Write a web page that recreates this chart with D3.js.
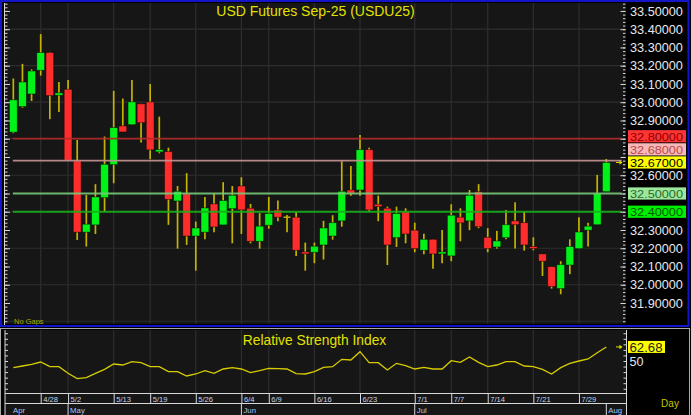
<!DOCTYPE html>
<html><head><meta charset="utf-8">
<script src="https://cdn.jsdelivr.net/npm/d3@7"></script>
<style>
html,body{margin:0;padding:0;background:#000;}
svg{display:block;font-family:"Liberation Sans",Arial,sans-serif;}
</style></head><body>
<svg id="c" width="691" height="415"></svg>
<script>
// ---------------- DATA ----------------
const dates = ["4/23","4/24","4/25","4/28","4/29","4/30","5/2","5/6","5/7","5/8","5/9","5/13","5/14","5/15","5/16",
"5/19","5/20","5/21","5/22","5/23","5/26","5/27","5/28","5/29","5/30","6/4","6/5","6/6","6/9","6/10","6/11","6/12","6/13",
"6/16","6/17","6/18","6/19","6/20","6/23","6/24","6/25","6/26","6/27","6/30","7/1","7/2","7/3","7/4","7/7","7/8","7/9","7/11",
"7/14","7/15","7/16","7/17","7/18","7/21","7/22","7/23","7/24","7/25","7/29","7/30","7/31","8/1"];
const openV = [32.836,32.976,33.045,33.175,33.272,33.038,33.071,32.678,32.288,32.328,32.477,32.658,32.870,32.877,32.991,
33.002,32.728,32.730,32.459,32.498,32.267,32.288,32.443,32.328,32.417,32.541,32.419,32.238,32.326,32.410,32.370,32.370,32.180,
32.178,32.218,32.267,32.350,32.519,32.519,32.740,32.441,32.419,32.258,32.399,32.299,32.189,32.249,32.169,32.158,32.370,32.350,32.510,
32.260,32.207,32.258,32.350,32.340,32.209,32.169,32.099,31.979,32.108,32.198,32.299,32.329,32.510];
const highV = [33.130,33.210,33.180,33.373,33.275,33.111,33.122,32.793,32.492,32.551,32.812,33.062,33.020,33.122,32.991,
33.100,32.921,32.751,32.541,32.611,32.346,32.481,32.501,32.562,32.541,32.589,32.443,32.392,32.481,32.461,32.382,32.399,32.231,
32.231,32.350,32.381,32.677,32.651,32.821,32.751,32.488,32.428,32.428,32.419,32.340,32.280,32.249,32.300,32.441,32.419,32.519,32.551,
32.310,32.295,32.410,32.452,32.399,32.260,32.169,32.099,32.129,32.249,32.370,32.340,32.602,32.689];
const lowV = [32.830,32.970,33.007,33.146,32.907,32.947,32.680,32.245,32.209,32.278,32.401,32.556,32.837,32.877,32.779,
32.688,32.720,32.328,32.198,32.218,32.077,32.249,32.288,32.328,32.227,32.278,32.227,32.198,32.307,32.348,32.288,32.158,32.077,
32.118,32.138,32.247,32.318,32.488,32.488,32.399,32.348,32.108,32.207,32.227,32.178,32.167,32.088,32.118,32.129,32.238,32.299,32.310,
32.178,32.198,32.249,32.198,32.187,32.189,32.048,31.979,31.948,32.058,32.198,32.209,32.329,32.510];
const closeV = [33.013,33.111,33.171,33.272,33.036,33.051,32.682,32.288,32.332,32.481,32.660,32.861,32.837,33.002,32.888,
32.739,32.740,32.468,32.512,32.267,32.311,32.421,32.317,32.461,32.490,32.410,32.238,32.321,32.390,32.370,32.370,32.189,32.169,
32.211,32.311,32.340,32.512,32.501,32.740,32.410,32.428,32.218,32.390,32.278,32.198,32.249,32.169,32.180,32.381,32.339,32.490,32.318,
32.198,32.240,32.329,32.329,32.218,32.198,32.129,31.990,32.110,32.209,32.289,32.321,32.501,32.670];
const rsiV = [44.0,45.5,47.0,49.1,44.9,44.9,38.9,34.1,35.0,38.9,42.5,47.3,46.4,49.4,48.5,
44.9,44.9,40.4,40.4,36.5,38.3,41.3,38.9,42.8,44.0,42.8,39.5,41.3,43.4,43.1,42.8,38.6,38.3,
40.4,44.3,44.9,51.5,50.9,58.4,48.5,48.5,41.9,47.9,45.8,42.8,44.3,42.8,42.8,50.3,48.8,53.6,48.8,
44.9,46.4,49.4,49.4,45.5,44.9,42.5,38.3,44.0,47.9,50.0,51.8,57.5,62.68];
const dateTicks = ["4/28","5/2","5/13","5/19","5/26","6/4","6/9","6/16","6/23","7/1","7/7","7/14","7/21","7/29"];
const monthStarts = ["4/23","5/2","6/4","7/1","8/1"];
const monthLabels = ["Apr","May","Jun","Jul","Aug"];
const priceTicks = [31.9,32.0,32.1,32.2,32.3,32.4,32.5,32.6,32.7,32.8,32.9,33.0,33.1,33.2,33.3,33.4,33.5];
const priceGrid = [31.8,32.0,32.2,32.4,32.6,32.8,33.0,33.2,33.4];
const levels = [32.80, 32.68, 32.50, 32.40];
const rsiTicks = [25,30,35,40,45,50,55,60,65,70,75];
const rsiLabels = [50];
const titleText = "USD Futures Sep-25 (USDU25)";
const rsiTitle = "Relative Strength Index";

// ---------------- STYLE ----------------
const levelLine = ["#b42828","#c89494","#78c878","#18b018"];
const levelFill = ["#ff3434","#f6b8b8","#9ce89c","#00ee00"];
const levelText = ["#8c0000","#c04848","#2e6a2e","#005a00"];
const UP="#00f218", DN="#ff2c2c", WICK="#c4b400", GRID="#2e2e2e", AX="#d8d8d8";

const svg = d3.select("#c");
const PL=5, PR=625.5, PT=3, PB=324;
const x = d3.scalePoint().domain(dates).range([13.33, 13.33 + 9.123*(dates.length-1)]);
const y = d3.scaleLinear().domain([31.785, 33.549]).range([324, 2]);
const yr = d3.scaleLinear().domain([21.17, 77.93]).range([393, 330]);
const fmt = d3.format(".5f");

// backgrounds
svg.append("rect").attr("width",691).attr("height",415).attr("fill","#000");
svg.append("rect").attr("x",PL).attr("y",PT).attr("width",PR-PL).attr("height",PB-PT).attr("fill","#161616");
svg.append("rect").attr("x",5).attr("y",330).attr("width",621.5).attr("height",85).attr("fill","#161616");

// main grid
const g = svg.append("g");
g.selectAll(".vg").data(dateTicks).join("line")
  .attr("x1",d=>x(d)).attr("x2",d=>x(d)).attr("y1",PT).attr("y2",PB)
  .attr("stroke",GRID).attr("stroke-width",1.2);
g.selectAll(".hg").data(priceGrid).join("line")
  .attr("x1",PL).attr("x2",PR).attr("y1",d=>y(d)).attr("y2",d=>y(d))
  .attr("stroke",GRID).attr("stroke-width",1.2);

// candles
const idx = d3.range(dates.length);
const cg = svg.append("g");
cg.selectAll(".w").data(idx).join("line")
  .attr("x1",i=>x(dates[i])).attr("x2",i=>x(dates[i]))
  .attr("y1",i=>y(highV[i])).attr("y2",i=>y(lowV[i]))
  .attr("stroke",WICK).attr("stroke-width",1.7);
cg.selectAll(".b").data(idx.filter(i=>Math.abs(closeV[i]-openV[i])>0.0005)).join("rect")
  .attr("x",i=>x(dates[i])-3.9).attr("width",7.8)
  .attr("y",i=>y(Math.max(openV[i],closeV[i])))
  .attr("height",i=>Math.max(2,Math.abs(y(openV[i])-y(closeV[i]))))
  .attr("fill",i=>closeV[i]>openV[i]?UP:DN)
  .attr("stroke","#000").attr("stroke-opacity",0.55).attr("stroke-width",0.8);
cg.selectAll(".d").data(idx.filter(i=>Math.abs(closeV[i]-openV[i])<=0.0005)).join("line")
  .attr("x1",i=>x(dates[i])-3.5).attr("x2",i=>x(dates[i])+3.5)
  .attr("y1",i=>y(openV[i])).attr("y2",i=>y(openV[i]))
  .attr("stroke",WICK).attr("stroke-width",1.4);

// level lines
svg.selectAll(".lv").data(levels).join("line")
  .attr("x1",x(dates[0])-0.5).attr("x2",621.7)
  .attr("y1",d=>y(d)).attr("y2",d=>y(d))
  .attr("stroke",(d,i)=>levelLine[i]).attr("stroke-width",1.8).attr("opacity",0.9);

// left axis (main)
const minor = d3.range(31.80, 33.551, 0.02);
svg.append("g").attr("transform",`translate(${PL},0)`)
  .call(d3.axisRight(y).tickValues(minor).tickSize(2.5).tickSizeOuter(0).tickFormat(""))
  .call(a=>{a.selectAll("line").attr("stroke",AX);a.select(".domain").remove();});
svg.append("g").attr("transform",`translate(${PL},0)`)
  .call(d3.axisRight(y).tickValues(priceTicks).tickSize(5).tickSizeOuter(0).tickFormat(""))
  .call(a=>{a.selectAll("line").attr("stroke",AX);a.select(".domain").remove();});
svg.append("line").attr("x1",4.5).attr("x2",4.5).attr("y1",PT).attr("y2",325).attr("stroke",AX);

// right axis ticks (main)
svg.append("g").attr("transform",`translate(${PR},0)`)
  .call(d3.axisLeft(y).tickValues(minor).tickSize(2.5).tickSizeOuter(0).tickFormat(""))
  .call(a=>{a.selectAll("line").attr("stroke",AX);a.select(".domain").remove();});
svg.append("g").attr("transform",`translate(${PR},0)`)
  .call(d3.axisLeft(y).tickValues(priceTicks).tickSize(5).tickSizeOuter(0).tickFormat(""))
  .call(a=>{a.selectAll("line").attr("stroke",AX);a.select(".domain").remove();});

// label boxes
const boxH = 12.2, boxGap = 13.1;
const lastPrice = closeV[closeV.length-1];
const lastBox = {v:lastPrice, cy:y(lastPrice), fill:"#ffff00", text:"#000"};
const boxes = levels.map((v,i)=>({v, cy:y(v), fill:levelFill[i], text:levelText[i]}));
const placed = [lastBox];
boxes.filter(b=>b.v>=lastPrice).sort((a,b)=>a.v-b.v).forEach(b=>{
  placed.forEach(p=>{ if(Math.abs(b.cy-p.cy)<boxGap) b.cy = p.cy-boxGap; });
  placed.push(b);
});
boxes.filter(b=>b.v<lastPrice).sort((a,b)=>b.v-a.v).forEach(b=>{
  placed.forEach(p=>{ if(Math.abs(b.cy-p.cy)<boxGap) b.cy = p.cy+boxGap; });
  placed.push(b);
});
const hidden = t => placed.some(p=>Math.abs(y(t)-p.cy)<10);
svg.append("g").attr("transform",`translate(${PR},0)`)
  .call(d3.axisRight(y).tickValues(priceTicks).tickSize(0).tickPadding(4.5).tickSizeOuter(0)
    .tickFormat(t=>hidden(t)?"":fmt(t)))
  .call(a=>{a.select(".domain").remove();
    a.selectAll("text").attr("fill","#e6e8ee").attr("font-size","12.7px")
     .attr("font-family","Liberation Sans, Arial, sans-serif");});
const bx = svg.append("g");
placed.forEach(p=>{
  bx.append("rect").attr("x",628).attr("y",p.cy-boxH/2).attr("width",58).attr("height",boxH).attr("fill",p.fill);
  bx.append("text").attr("x",630).attr("y",p.cy+4.3).attr("font-size","11.6px")
    .attr("textLength",53).attr("lengthAdjust","spacingAndGlyphs")
    .attr("fill",p.text).text(fmt(p.v));
});
// last price arrow
function arrow(cx, cy){
  svg.append("path").attr("d",`M${cx-4},${cy}h4`).attr("stroke","#e0e000").attr("stroke-width",1);
  svg.append("path").attr("d",`M${cx-0.5},${cy-2.2}L${cx+2.5},${cy}L${cx-0.5},${cy+2.2}Z`).attr("fill","#e0e000");
}
arrow(620, y(lastPrice));

// title + No Gaps
svg.append("text").attr("x",315.5).attr("y",15.5).attr("text-anchor","middle").attr("font-size","14px")
  .attr("fill","#e2e200").text(titleText);
svg.append("text").attr("x",14).attr("y",324).attr("font-size","7.5px").attr("fill","#a8a800").text("No Gaps");

// main blue border
svg.append("rect").attr("x",1).attr("y",1).attr("width",687.5).attr("height",325)
  .attr("fill","none").attr("stroke","#1414c8").attr("stroke-width",2);

// ---------------- RSI panel ----------------
svg.append("rect").attr("x",0.5).attr("y",328.5).attr("width",689).attr("height",87)
  .attr("fill","none").attr("stroke","#a8a8a8").attr("stroke-width",1);
svg.selectAll(".rvg").data(dateTicks).join("line")
  .attr("x1",d=>x(d)).attr("x2",d=>x(d)).attr("y1",330).attr("y2",393)
  .attr("stroke",GRID).attr("stroke-width",1.2);
svg.append("g").attr("transform","translate(5,0)")
  .call(d3.axisRight(yr).tickValues(rsiTicks).tickSize(3).tickSizeOuter(0).tickFormat(""))
  .call(a=>{a.selectAll("line").attr("stroke",AX);a.select(".domain").remove();});
svg.append("g").attr("transform","translate(626.5,0)")
  .call(d3.axisLeft(yr).tickValues(rsiTicks).tickSize(3).tickSizeOuter(0).tickFormat(""))
  .call(a=>{a.selectAll("line").attr("stroke",AX);a.select(".domain").remove();});
svg.append("line").attr("x1",5).attr("x2",5).attr("y1",330).attr("y2",415).attr("stroke",AX);
svg.append("line").attr("x1",626.5).attr("x2",626.5).attr("y1",330).attr("y2",415).attr("stroke",AX);

svg.append("path").datum(idx)
  .attr("d",d3.line().x(i=>x(dates[i])).y(i=>yr(rsiV[i])))
  .attr("fill","none").attr("stroke","#d6cc00").attr("stroke-width",1.3);
svg.append("text").attr("x",314.5).attr("y",345).attr("text-anchor","middle").attr("font-size","13.8px")
  .attr("fill","#e2e200").text(rsiTitle);

// RSI labels
const lastRsi = rsiV[rsiV.length-1];
svg.append("g").attr("transform","translate(626.5,0)")
  .call(d3.axisRight(yr).tickValues(rsiLabels).tickSize(0).tickPadding(3).tickFormat(d3.format("d")))
  .call(a=>{a.select(".domain").remove();
    a.selectAll("text").attr("fill","#e6e8ee").attr("font-size","12.2px").attr("dy","0.4em")
     .attr("textLength",14).attr("lengthAdjust","spacingAndGlyphs")
     .attr("font-family","Liberation Sans, Arial, sans-serif");});
svg.append("rect").attr("x",628).attr("y",yr(lastRsi)-6).attr("width",37).attr("height",12).attr("fill","#ffff00");
svg.append("text").attr("x",629.5).attr("y",yr(lastRsi)+4.6).attr("font-size","12.2px")
  .attr("textLength",33).attr("lengthAdjust","spacingAndGlyphs")
  .attr("fill","#222").text(d3.format(".2f")(lastRsi));
arrow(620, yr(lastRsi));

// ---------------- date axis ----------------
svg.append("line").attr("x1",5).attr("x2",626.5).attr("y1",393.5).attr("y2",393.5).attr("stroke",AX);
svg.append("line").attr("x1",5).attr("x2",626.5).attr("y1",403.5).attr("y2",403.5).attr("stroke",AX);
svg.append("g").attr("transform","translate(0,393)")
  .call(d3.axisBottom(x).tickValues(dateTicks).tickSize(10).tickSizeOuter(0))
  .call(a=>{a.select(".domain").remove();
    a.selectAll("line").attr("stroke",AX);
    a.selectAll("text").attr("x",2).attr("y",8.6).attr("dy",0).attr("text-anchor","start")
      .attr("fill","#c8d4ea").attr("font-size","7.6px").attr("font-family","Liberation Sans, Arial, sans-serif");});
svg.selectAll(".ms").data(monthStarts.slice(1)).join("line")
  .attr("x1",d=>x(d)).attr("x2",d=>x(d)).attr("y1",403).attr("y2",415).attr("stroke",AX);
svg.selectAll(".ml").data(monthStarts).join("text")
  .attr("x",(d,i)=>i===0?13:x(d)+2).attr("y",413).attr("font-size","7.8px").attr("fill","#a6c6f4")
  .text((d,i)=>monthLabels[i]);
svg.append("text").attr("x",670).attr("y",407).attr("text-anchor","middle").attr("font-size","10px")
  .attr("fill","#c8c800").text("Day");
</script>
</body></html>
